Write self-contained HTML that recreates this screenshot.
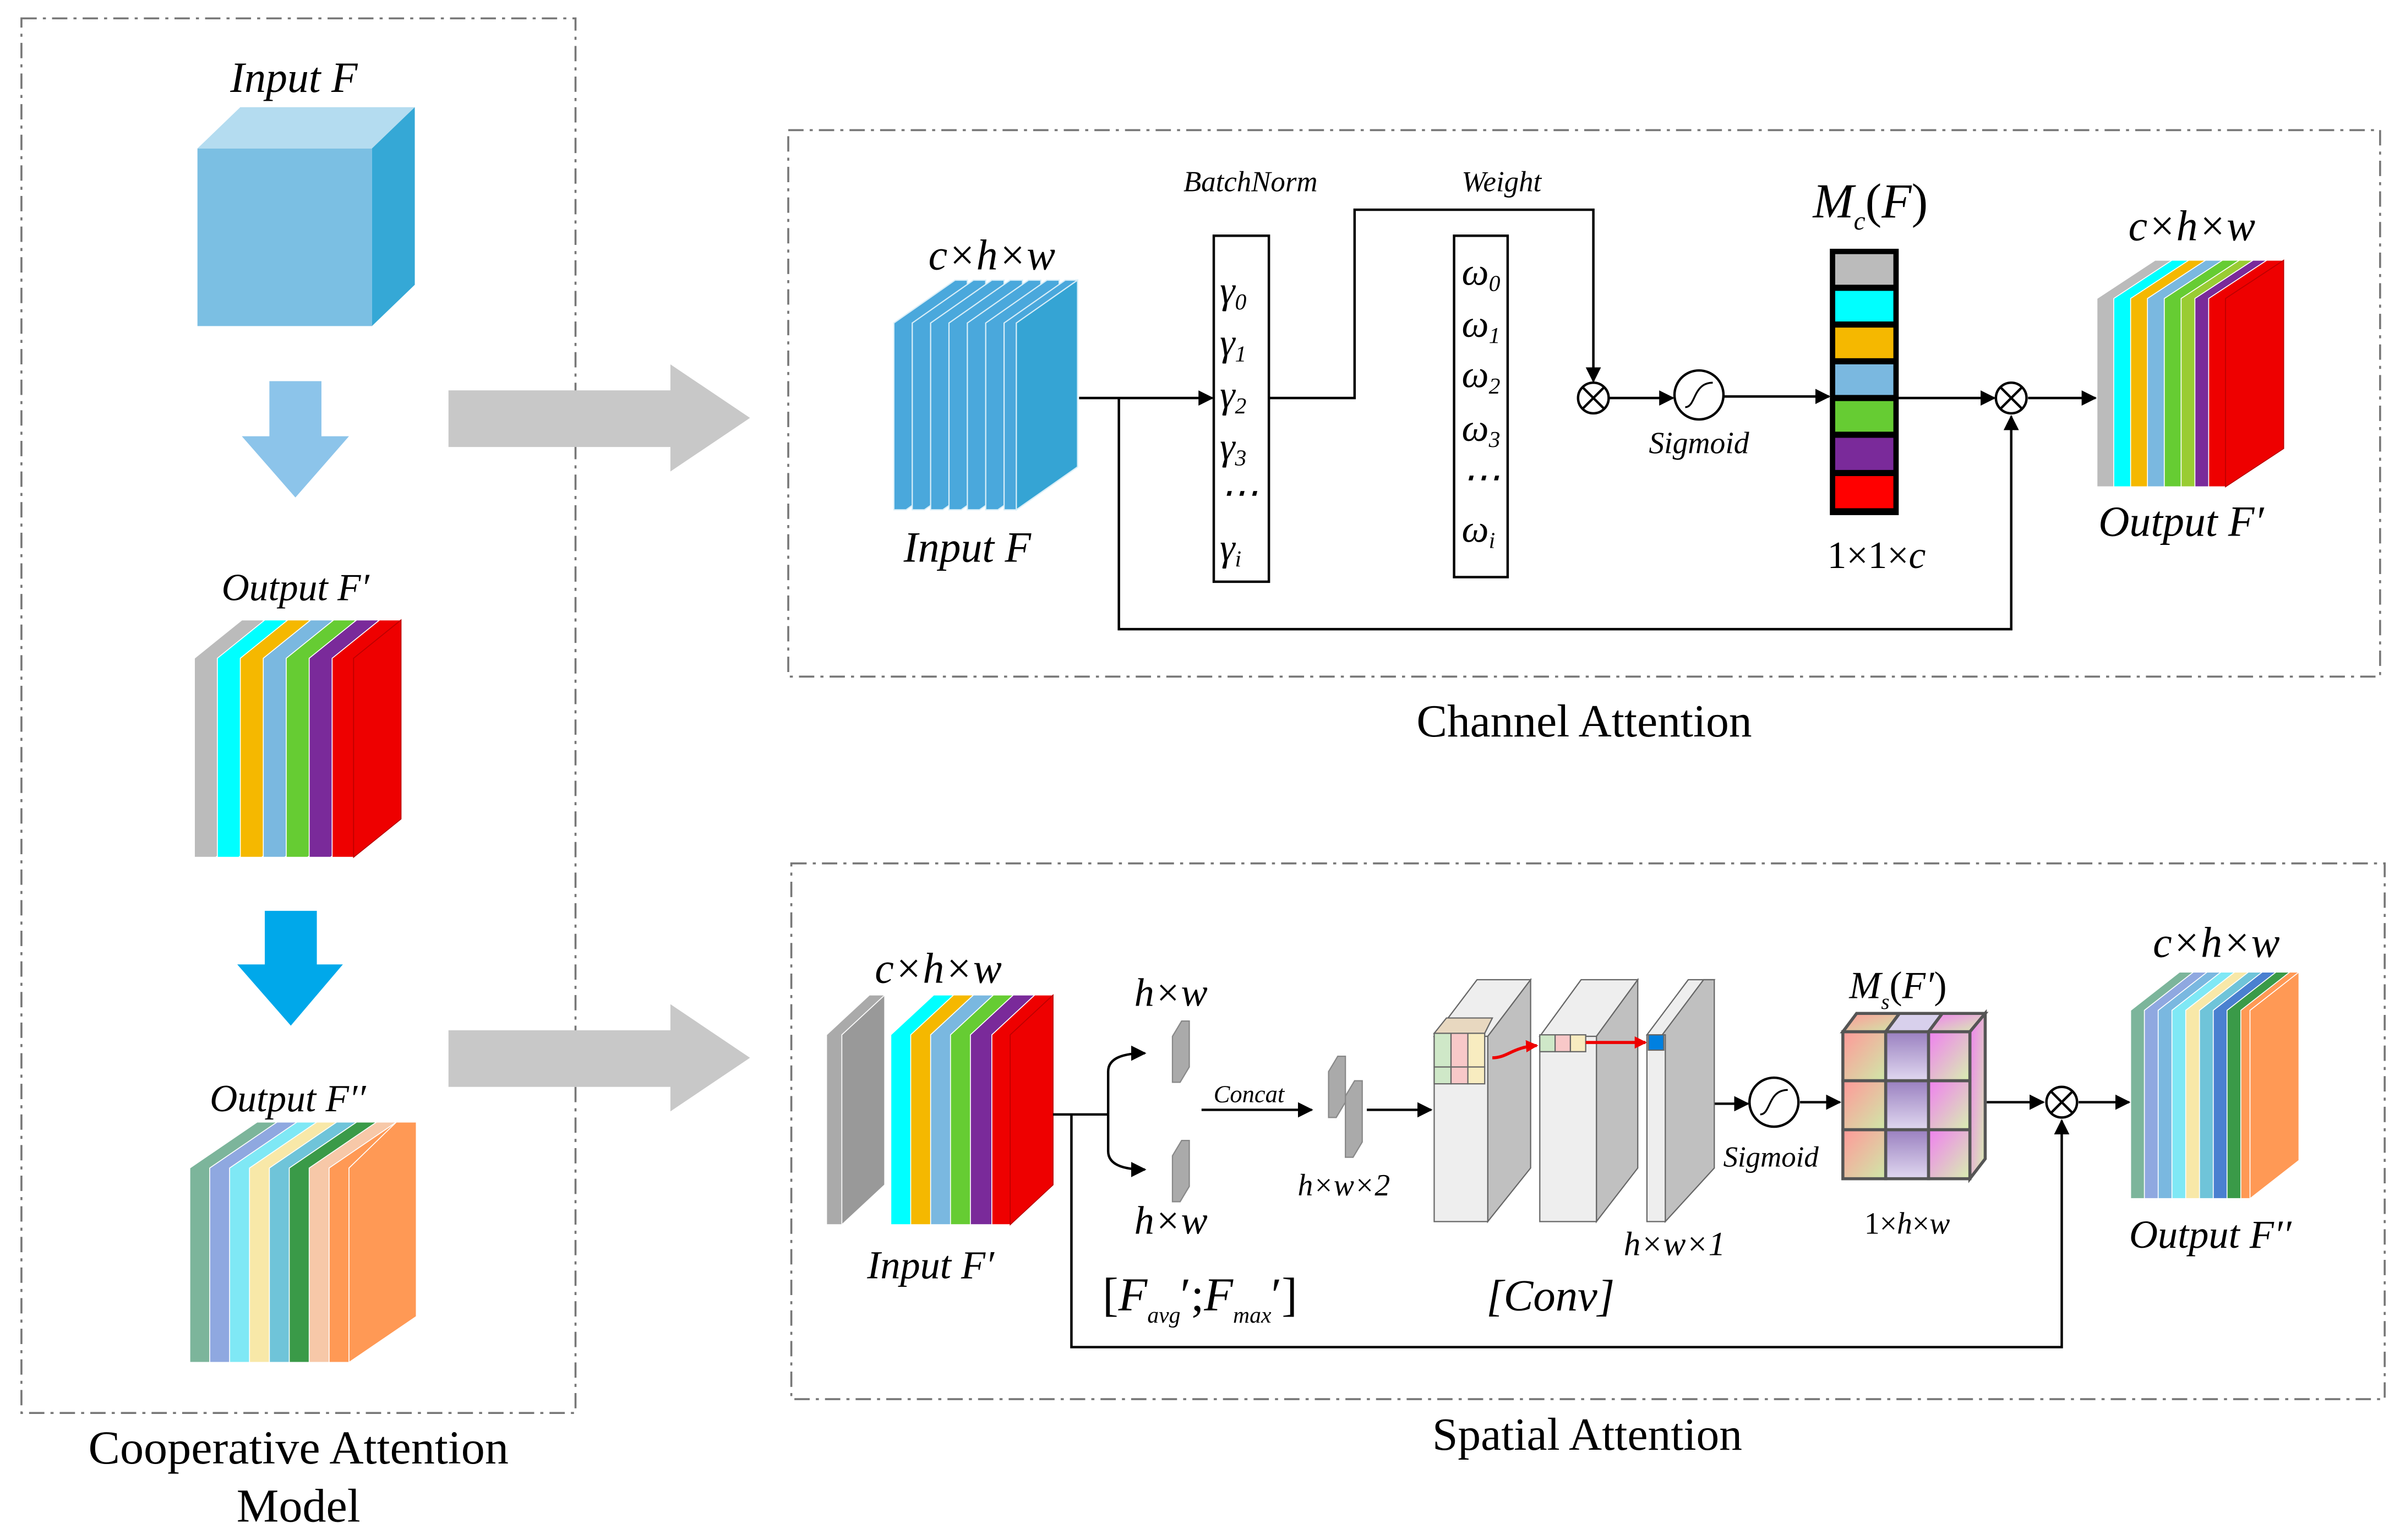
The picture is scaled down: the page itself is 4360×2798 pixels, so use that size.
<!DOCTYPE html>
<html><head><meta charset="utf-8"><style>
html,body{margin:0;padding:0;background:#fff}
svg{display:block}
text{font-family:"Liberation Serif",serif;fill:#000}
.i{font-style:italic}
</style></head><body>
<svg width="4360" height="2798" viewBox="0 0 1568 1006" preserveAspectRatio="none" xmlns="http://www.w3.org/2000/svg">
<defs>
<marker id="ah" markerWidth="10" markerHeight="10" refX="9" refY="5" orient="auto" markerUnits="userSpaceOnUse"><path d="M0,0 L10,5 L0,10 z" fill="#000"/></marker>
<marker id="rh" markerWidth="8" markerHeight="8" refX="7" refY="4" orient="auto" markerUnits="userSpaceOnUse"><path d="M0,0 L8,4 L0,8 z" fill="#e00"/></marker>
<linearGradient id="g1" x1="0" y1="0" x2="1" y2="1"><stop offset="0" stop-color="#f99"/><stop offset="1" stop-color="#cfe8a8"/></linearGradient>
<linearGradient id="g2" x1="0" y1="0" x2="0" y2="1"><stop offset="0" stop-color="#9a80c0"/><stop offset="1" stop-color="#e0d8f0"/></linearGradient>
<linearGradient id="g3" x1="0" y1="0" x2="1" y2="1"><stop offset="0" stop-color="#f080f0"/><stop offset="1" stop-color="#d8f0b0"/></linearGradient>
</defs>
<g fill="none" stroke="#777" stroke-width="1.3" stroke-dasharray="10,4,2,4">
<rect x="14" y="12" width="362" height="911"/>
<rect x="515" y="85" width="1040" height="357"/>
<rect x="517" y="564" width="1041" height="350"/>
</g>
<text x="195" y="956" font-size="31" text-anchor="middle">Cooperative Attention</text>
<text x="195" y="994" font-size="31" text-anchor="middle">Model</text>
<text x="1035" y="481" font-size="30" text-anchor="middle">Channel Attention</text>
<text x="1037" y="947" font-size="30" text-anchor="middle">Spatial Attention</text>

<text x="192" y="60" font-size="28" class="i" text-anchor="middle">Input F</text>
<polygon points="129,97 157,70 271,70 243,97" fill="#b4dcf0"/>
<polygon points="243,97 271,70 271,186 243,213" fill="#35a8d6"/>
<rect x="129" y="97" width="114" height="116" fill="#7bbfe3"/>
<polygon points="176,249 210,249 210,285 228,285 193,325 158,285 176,285" fill="#8cc4ea"/>
<polygon points="173,595 207,595 207,630 224,630 190,670 155,630 173,630" fill="#00a8ea"/>

<text x="193" y="392" font-size="25" class="i" text-anchor="middle">Output F′</text>
<g stroke="#fff" stroke-width="0.6">
<g transform="translate(127,405)"><polygon points="0,25 31,0 45,0 45,130 14,155 0,155" fill="#bbb"/></g>
<g transform="translate(142,405)"><polygon points="0,25 31,0 45,0 45,130 14,155 0,155" fill="#0ff"/></g>
<g transform="translate(157,405)"><polygon points="0,25 31,0 45,0 45,130 14,155 0,155" fill="#f5b800"/></g>
<g transform="translate(172,405)"><polygon points="0,25 31,0 45,0 45,130 14,155 0,155" fill="#7ab8e0"/></g>
<g transform="translate(187,405)"><polygon points="0,25 31,0 45,0 45,130 14,155 0,155" fill="#6c3"/></g>
<g transform="translate(202,405)"><polygon points="0,25 31,0 45,0 45,130 14,155 0,155" fill="#7a2a9a"/></g>
<g transform="translate(217,405)"><polygon points="0,25 31,0 45,0 45,130 14,155 0,155" fill="#e00"/><polygon points="14,25 45,0 45,130 14,155" fill="#e00" stroke="#b00"/></g>
</g>

<text x="188" y="726" font-size="25" class="i" text-anchor="middle">Output F′′</text>
<g stroke="#fff" stroke-width="0.6">
<g transform="translate(124,733)"><polygon points="0,30 44,0 57,0 57,127 13,157 0,157" fill="#7cb59b"/></g>
<g transform="translate(137,733)"><polygon points="0,30 44,0 57,0 57,127 13,157 0,157" fill="#8fa8e0"/></g>
<g transform="translate(150,733)"><polygon points="0,30 44,0 57,0 57,127 13,157 0,157" fill="#7fe8f5"/></g>
<g transform="translate(163,733)"><polygon points="0,30 44,0 57,0 57,127 13,157 0,157" fill="#f8e8a8"/></g>
<g transform="translate(176,733)"><polygon points="0,30 44,0 57,0 57,127 13,157 0,157" fill="#6fc4d9"/></g>
<g transform="translate(189,733)"><polygon points="0,30 44,0 57,0 57,127 13,157 0,157" fill="#3a9a48"/></g>
<g transform="translate(202,733)"><polygon points="0,30 44,0 57,0 57,127 13,157 0,157" fill="#f7c8a8"/></g>
<g transform="translate(215,733)"><polygon points="0,30 44,0 57,0 57,127 13,157 0,157" fill="#f95"/><polygon points="13,30 44,0 57,0 57,127 13,157" fill="#ff9955"/></g>
</g>

<polygon points="293,255 438,255 438,238 490,273 438,308 438,292 293,292" fill="#c8c8c8"/>
<polygon points="293,673 438,673 438,656 490,691 438,726 438,710 293,710" fill="#c8c8c8"/>

<text x="648" y="176" font-size="28" class="i" text-anchor="middle">c×h×w</text>
<g stroke="#d8eef8" stroke-width="0.8">
<g transform="translate(584,183)"><polygon points="0,28 40,0 48,0 48,122 8,150 0,150" fill="#4aa8dc"/></g>
<g transform="translate(596,183)"><polygon points="0,28 40,0 48,0 48,122 8,150 0,150" fill="#4aa8dc"/></g>
<g transform="translate(608,183)"><polygon points="0,28 40,0 48,0 48,122 8,150 0,150" fill="#4aa8dc"/></g>
<g transform="translate(620,183)"><polygon points="0,28 40,0 48,0 48,122 8,150 0,150" fill="#4aa8dc"/></g>
<g transform="translate(632,183)"><polygon points="0,28 40,0 48,0 48,122 8,150 0,150" fill="#4aa8dc"/></g>
<g transform="translate(644,183)"><polygon points="0,28 40,0 48,0 48,122 8,150 0,150" fill="#4aa8dc"/></g>
<g transform="translate(656,183)"><polygon points="0,28 40,0 48,0 48,122 8,150 0,150" fill="#4aa8dc"/><polygon points="8,28 48,0 48,122 8,150" fill="#35a4d4"/></g>
</g>
<text x="632" y="367" font-size="28" class="i" text-anchor="middle">Input F</text>
<g stroke="#000" stroke-width="1.6" fill="none">
<line x1="705" y1="260" x2="792" y2="260" marker-end="url(#ah)"/>
<polyline points="731,260 731,411 1314,411 1314,272" marker-end="url(#ah)"/>
<polyline points="829,260 885,260 885,137 1041,137 1041,249" marker-end="url(#ah)"/>
<line x1="1051" y1="260" x2="1093" y2="260" marker-end="url(#ah)"/>
<line x1="1126" y1="259" x2="1195" y2="259" marker-end="url(#ah)"/>
<line x1="1239" y1="260" x2="1303" y2="260" marker-end="url(#ah)"/>
<line x1="1325" y1="260" x2="1369" y2="260" marker-end="url(#ah)"/>
<rect x="793" y="154" width="36" height="226" fill="#fff"/>
<rect x="950" y="154" width="35" height="223" fill="#fff"/>
<circle cx="1041" cy="260" r="10" fill="#fff"/>
<path d="M1034,253 L1048,267 M1048,253 L1034,267"/>
<circle cx="1314" cy="260" r="10" fill="#fff"/>
<path d="M1307,253 L1321,267 M1321,253 L1307,267"/>
<circle cx="1110" cy="258" r="16" fill="#fff"/>
<path d="M1101,266 C1108,266 1106,250 1119,250" stroke-width="1.2"/>
</g>
<text x="817" y="125" font-size="19" class="i" text-anchor="middle">BatchNorm</text>
<text x="981" y="125" font-size="19" class="i" text-anchor="middle">Weight</text>
<g font-size="25" class="i">
<text x="797" y="198">γ<tspan font-size="15" dy="4">0</tspan></text>
<text x="797" y="232">γ<tspan font-size="15" dy="4">1</tspan></text>
<text x="797" y="266">γ<tspan font-size="15" dy="4">2</tspan></text>
<text x="797" y="300">γ<tspan font-size="15" dy="4">3</tspan></text>
<text x="797" y="330">⋯</text>
<text x="797" y="366">γ<tspan font-size="15" dy="4">i</tspan></text>
<text x="955" y="186">ω<tspan font-size="15" dy="4">0</tspan></text>
<text x="955" y="220">ω<tspan font-size="15" dy="4">1</tspan></text>
<text x="955" y="253">ω<tspan font-size="15" dy="4">2</tspan></text>
<text x="955" y="288">ω<tspan font-size="15" dy="4">3</tspan></text>
<text x="955" y="320">⋯</text>
<text x="955" y="354">ω<tspan font-size="15" dy="4">i</tspan></text>
</g>
<text x="1110" y="296" font-size="20" class="i" text-anchor="middle">Sigmoid</text>
<text x="1222" y="142" font-size="32" text-anchor="middle"><tspan class="i">M</tspan><tspan font-size="17" class="i" dy="8">c</tspan><tspan dy="-8">(</tspan><tspan class="i">F</tspan>)</text>
<g stroke="#000" stroke-width="3">
<rect x="1197" y="164" width="42" height="171" fill="#000"/>
<rect x="1199" y="166" width="38" height="20" fill="#bbb" stroke="none"/>
<rect x="1199" y="190" width="38" height="20" fill="#0ff" stroke="none"/>
<rect x="1199" y="214" width="38" height="20" fill="#f5b800" stroke="none"/>
<rect x="1199" y="238" width="38" height="20" fill="#7ab8e0" stroke="none"/>
<rect x="1199" y="262" width="38" height="20" fill="#6c3" stroke="none"/>
<rect x="1199" y="286" width="38" height="21" fill="#7a2a9a" stroke="none"/>
<rect x="1199" y="311" width="38" height="21" fill="#f00" stroke="none"/>
</g>
<text x="1226" y="371" font-size="25" text-anchor="middle">1×1×<tspan class="i">c</tspan></text>
<text x="1432" y="157" font-size="28" class="i" text-anchor="middle">c×h×w</text>
<g stroke="#fff" stroke-width="0.6">
<g transform="translate(1370,170)"><polygon points="0,25 38,0 49,0 49,123 11,148 0,148" fill="#bbb"/></g>
<g transform="translate(1381,170)"><polygon points="0,25 38,0 49,0 49,123 11,148 0,148" fill="#0ff"/></g>
<g transform="translate(1392,170)"><polygon points="0,25 38,0 49,0 49,123 11,148 0,148" fill="#f5b800"/></g>
<g transform="translate(1403,170)"><polygon points="0,25 38,0 49,0 49,123 11,148 0,148" fill="#7ab8e0"/></g>
<g transform="translate(1414,170)"><polygon points="0,25 38,0 49,0 49,123 11,148 0,148" fill="#6c3"/></g>
<g transform="translate(1425,170)"><polygon points="0,25 38,0 49,0 49,123 11,148 0,148" fill="#9c3"/></g>
<g transform="translate(1434,170)"><polygon points="0,25 38,0 49,0 49,123 11,148 0,148" fill="#7a2a9a"/></g>
<g transform="translate(1443,170)"><polygon points="0,25 38,0 49,0 49,123 11,148 0,148" fill="#e00"/><polygon points="11,25 49,0 49,123 11,148" fill="#e00" stroke="#b00"/></g>
</g>
<text x="1425" y="350" font-size="28" class="i" text-anchor="middle">Output F′</text>

<text x="613" y="642" font-size="28" class="i" text-anchor="middle">c×h×w</text>
<g stroke="#fff" stroke-width="0.6">
<polygon points="540,676 568,650 578,650 578,774 550,800 540,800" fill="#aaa"/>
<polygon points="550,676 578,650 578,774 550,800" fill="#999"/>
<g transform="translate(582,650)"><polygon points="0,26 28,0 42,0 42,124 14,150 0,150" fill="#0ff"/></g>
<g transform="translate(595,650)"><polygon points="0,26 28,0 42,0 42,124 14,150 0,150" fill="#f5b800"/></g>
<g transform="translate(608,650)"><polygon points="0,26 28,0 42,0 42,124 14,150 0,150" fill="#7ab8e0"/></g>
<g transform="translate(621,650)"><polygon points="0,26 28,0 42,0 42,124 14,150 0,150" fill="#6c3"/></g>
<g transform="translate(634,650)"><polygon points="0,26 28,0 42,0 42,124 14,150 0,150" fill="#7a2a9a"/></g>
<g transform="translate(648,650)"><polygon points="0,26 28,0 40,0 40,124 12,150 0,150" fill="#e00"/><polygon points="12,26 40,0 40,124 12,150" fill="#e00" stroke="#b00"/></g>
</g>
<text x="608" y="835" font-size="26" class="i" text-anchor="middle">Input F′</text>
<text x="765" y="657" font-size="26" class="i" text-anchor="middle">h×w</text>
<text x="765" y="806" font-size="26" class="i" text-anchor="middle">h×w</text>
<text x="784" y="856" font-size="31" text-anchor="middle">[<tspan class="i">F</tspan><tspan font-size="15" class="i" dy="8">avg</tspan><tspan dy="-8">′;</tspan><tspan class="i">F</tspan><tspan font-size="15" class="i" dy="8">max</tspan><tspan dy="-8">′]</tspan></text>
<g stroke="#000" stroke-width="1.6" fill="none">
<polyline points="688,728 724,728"/>
<path d="M724,728 L724,700 Q724,688 748,688" marker-end="url(#ah)"/>
<path d="M724,728 L724,752 Q724,764 748,764" marker-end="url(#ah)"/>
<polyline points="700,728 700,880 1347,880 1347,732" marker-end="url(#ah)"/>
<line x1="785" y1="725" x2="857" y2="725" marker-end="url(#ah)"/>
<line x1="893" y1="725" x2="935" y2="725" marker-end="url(#ah)"/>
<line x1="1113" y1="721" x2="1142" y2="721" marker-end="url(#ah)"/>
<line x1="1176" y1="720" x2="1202" y2="720" marker-end="url(#ah)"/>
<line x1="1298" y1="720" x2="1335" y2="720" marker-end="url(#ah)"/>
<line x1="1358" y1="720" x2="1391" y2="720" marker-end="url(#ah)"/>
<circle cx="1347" cy="720" r="10" fill="#fff"/>
<path d="M1340,713 L1354,727 M1354,713 L1340,727"/>
<circle cx="1159" cy="720" r="16" fill="#fff"/>
<path d="M1150,728 C1157,728 1155,712 1168,712" stroke-width="1.2"/>
</g>
<g stroke="#888" stroke-width="0.8">
<polygon points="766,677 772,667 777,667 777,697 771,707 766,707" fill="#aaa"/>
<polygon points="766,755 772,745 777,745 777,775 771,785 766,785" fill="#aaa"/>
<polygon points="868,700 874,690 879,690 879,720 873,730 868,730" fill="#aaa"/>
<polygon points="879,716 885,706 890,706 890,746 884,756 879,756" fill="#aaa"/>
</g>
<text x="816" y="720" font-size="16" class="i" text-anchor="middle">Concat</text>
<text x="878" y="781" font-size="20" class="i" text-anchor="middle">h×w×2</text>
<g stroke="#666" stroke-width="0.8">
<polygon points="937,677 965,640 1000,640 972,677" fill="#eee"/>
<polygon points="972,677 1000,640 1000,763 972,798" fill="#c0c0c0"/>
<rect x="937" y="677" width="35" height="121" fill="#eee"/>
<polygon points="1006,677 1033,640 1070,640 1043,677" fill="#eee"/>
<polygon points="1043,677 1070,640 1070,763 1043,798" fill="#c0c0c0"/>
<rect x="1006" y="677" width="37" height="121" fill="#eee"/>
<polygon points="1076,676 1103,640 1120,640 1092,676" fill="#eee"/>
<polygon points="1086,676 1113,640 1120,640 1120,763 1088,798" fill="#c0c0c0"/>
<rect x="1076" y="676" width="12" height="122" fill="#eee"/>
<rect x="937" y="675" width="11" height="22" fill="#cfe8c8"/>
<rect x="948" y="675" width="11" height="22" fill="#f8c8c8"/>
<rect x="959" y="675" width="11" height="22" fill="#f8ecc0"/>
<rect x="937" y="697" width="11" height="11" fill="#cfe8c8"/>
<rect x="948" y="697" width="11" height="11" fill="#f8c8c8"/>
<rect x="959" y="697" width="11" height="11" fill="#f8ecc0"/>
<polygon points="937,675 945,665 975,665 970,675" fill="#e8d8c0"/>
<rect x="1006" y="676" width="10" height="11" fill="#cfe8c8"/>
<rect x="1016" y="676" width="10" height="11" fill="#f8c8c8"/>
<rect x="1026" y="676" width="10" height="11" fill="#f8ecc0"/>
<rect x="1077" y="676" width="10" height="10" fill="#0080e0"/>
</g>
<path d="M975,691 C985,691 988,684 1004,683" stroke="#e00" stroke-width="2" fill="none" marker-end="url(#rh)"/>
<path d="M1036,681 L1075,681" stroke="#e00" stroke-width="2" fill="none" marker-end="url(#rh)"/>
<text x="1094" y="820" font-size="22" class="i" text-anchor="middle">h×w×1</text>
<text x="1013" y="856" font-size="29" class="i" text-anchor="middle">[Conv]</text>
<text x="1157" y="762" font-size="19" class="i" text-anchor="middle">Sigmoid</text>
<text x="1240" y="652" font-size="25" text-anchor="middle"><tspan class="i">M</tspan><tspan font-size="14" class="i" dy="7">s</tspan><tspan dy="-7">(</tspan><tspan class="i">F′</tspan>)</text>
<g stroke="#555" stroke-width="2">
<polygon points="1204,674 1213,662 1241,662 1232,674" fill="url(#g1)"/>
<polygon points="1232,674 1241,662 1269,662 1260,674" fill="#d8d0ec"/>
<polygon points="1260,674 1269,662 1297,662 1287,674" fill="url(#g3)"/>
<polygon points="1287,674 1297,662 1297,757 1287,770" fill="url(#g3)"/>
<rect x="1204" y="674" width="28" height="32" fill="url(#g1)"/>
<rect x="1232" y="674" width="28" height="32" fill="url(#g2)"/>
<rect x="1260" y="674" width="27" height="32" fill="url(#g3)"/>
<rect x="1204" y="706" width="28" height="32" fill="url(#g1)"/>
<rect x="1232" y="706" width="28" height="32" fill="url(#g2)"/>
<rect x="1260" y="706" width="27" height="32" fill="url(#g3)"/>
<rect x="1204" y="738" width="28" height="32" fill="url(#g1)"/>
<rect x="1232" y="738" width="28" height="32" fill="url(#g2)"/>
<rect x="1260" y="738" width="27" height="32" fill="url(#g3)"/>
</g>
<text x="1246" y="806" font-size="20" text-anchor="middle">1×<tspan class="i">h</tspan>×<tspan class="i">w</tspan></text>
<text x="1448" y="625" font-size="28" class="i" text-anchor="middle">c×h×w</text>
<g stroke="#fff" stroke-width="0.6">
<g transform="translate(1392,635)"><polygon points="0,25 32,0 42,0 42,123 10,148 0,148" fill="#7cb59b"/></g>
<g transform="translate(1401,635)"><polygon points="0,25 32,0 42,0 42,123 10,148 0,148" fill="#8fa8e0"/></g>
<g transform="translate(1410,635)"><polygon points="0,25 32,0 42,0 42,123 10,148 0,148" fill="#7ab8e0"/></g>
<g transform="translate(1419,635)"><polygon points="0,25 32,0 42,0 42,123 10,148 0,148" fill="#7fe8f5"/></g>
<g transform="translate(1428,635)"><polygon points="0,25 32,0 42,0 42,123 10,148 0,148" fill="#f8e8a8"/></g>
<g transform="translate(1437,635)"><polygon points="0,25 32,0 42,0 42,123 10,148 0,148" fill="#6fc4d9"/></g>
<g transform="translate(1446,635)"><polygon points="0,25 32,0 42,0 42,123 10,148 0,148" fill="#4a80d0"/></g>
<g transform="translate(1455,635)"><polygon points="0,25 32,0 42,0 42,123 10,148 0,148" fill="#3a9a48"/></g>
<g transform="translate(1464,635)"><polygon points="0,25 32,0 38,0 38,123 6,148 0,148" fill="#f95"/><polygon points="6,25 38,0 38,123 6,148" fill="#ff9955"/></g>
</g>
<text x="1444" y="815" font-size="26" class="i" text-anchor="middle">Output F′′</text>
</svg>
</body></html>
